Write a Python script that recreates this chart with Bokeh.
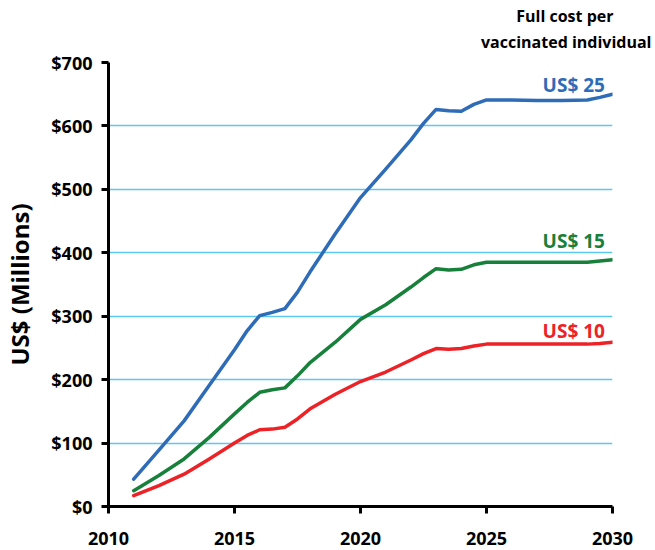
from bokeh.plotting import figure
from bokeh.models import Label, Range1d, FixedTicker, Title
from bokeh.embed import file_html
from bokeh.resources import INLINE

years = [2011, 2012, 2013, 2014, 2015, 2015.5, 2016, 2016.5, 2017, 2017.5, 2018, 2019, 2020,
         2021, 2022, 2022.5, 2023, 2023.5, 2024, 2024.5, 2025, 2026, 2027, 2028, 2029, 2029.5, 2030]
cost25 = [43, 89, 135, 191, 247, 277, 301, 306, 312, 338, 370, 430, 487,
          532, 578, 604, 626, 624, 623, 634, 641, 641, 640, 640, 641, 645, 650]
cost15 = [25, 49, 75, 109, 146, 164, 180, 184, 187, 206, 227, 259, 295,
          318, 346, 361, 375, 373, 374, 381, 385, 385, 385, 385, 385, 387, 389]
cost10 = [17, 33, 51, 75, 100, 112, 121, 122, 125, 138, 154, 177, 197,
          212, 231, 241, 249, 248, 249, 253, 256, 256, 256, 256, 256, 257, 259]
series_labels = ["US$ 25", "US$ 15", "US$ 10"]
colors = ["#2e6cb8", "#17803a", "#ec2227"]
y_ticks = [0, 100, 200, 300, 400, 500, 600, 700]
x_ticks = [2010, 2015, 2020, 2025, 2030]

FONT = "Open Sans"

p = figure(width=655, height=550, output_backend="svg", toolbar_location=None,
           x_range=Range1d(2010, 2030), y_range=Range1d(0, 700),
           min_border_left=108, min_border_right=43, min_border_top=62, min_border_bottom=44)
p.outline_line_color = None
p.xgrid.grid_line_color = None
p.ygrid.grid_line_color = "#5cc8ee"
p.ygrid.grid_line_width = 1.5
p.yaxis.ticker = FixedTicker(ticks=y_ticks)
p.xaxis.ticker = FixedTicker(ticks=x_ticks)
p.yaxis.major_label_overrides = {t: f"${t}" for t in y_ticks}
p.xaxis.major_label_overrides = {t: str(t) for t in x_ticks}
for ax in (p.xaxis, p.yaxis):
    ax.axis_line_width = 3
    ax.axis_line_color = "black"
    ax.major_tick_line_width = 3
    ax.major_tick_line_color = "black"
    ax.major_tick_out = 7
    ax.major_tick_in = 0
    ax.minor_tick_line_color = None
    ax.major_label_text_font = FONT
    ax.major_label_text_font_style = "bold"
    ax.major_label_text_font_size = "18px"
    ax.major_label_text_color = "black"
p.xaxis.major_label_standoff = 18
p.yaxis.major_label_standoff = 9
p.yaxis.axis_label = "US$ (Millions)"
p.yaxis.axis_label_text_font = FONT
p.yaxis.axis_label_text_font_style = "bold"
p.yaxis.axis_label_text_font_size = "24px"
p.yaxis.axis_label_text_color = "black"
p.yaxis.axis_label_standoff = 12

for vals, col in zip([cost25, cost15, cost10], colors):
    p.line(years, vals, line_color=col, line_width=3.5, line_join="round", line_cap="round")

label_y = [665, 419, 277]
for txt, col, yv in zip(series_labels, colors, label_y):
    p.add_layout(Label(x=2029.7, y=yv, text=txt, text_color=col, text_font=FONT,
                       text_font_style="bold", text_font_size="19px",
                       text_align="right", text_baseline="middle"))

p.title.text = "Full cost per"
p.title.align = "right"
p.title.offset = -1
p.title.text_font = FONT
p.title.text_font_style = "bold"
p.title.text_font_size = "16px"
p.title.text_color = "black"
p.title.standoff = -16
p.add_layout(Title(text="vaccinated individual", align="right", offset=-39, text_font=FONT,
                   text_font_style="bold", text_font_size="16px", text_color="black",
                   standoff=20), "above")

open("out.html", "w").write(file_html(p, INLINE))
